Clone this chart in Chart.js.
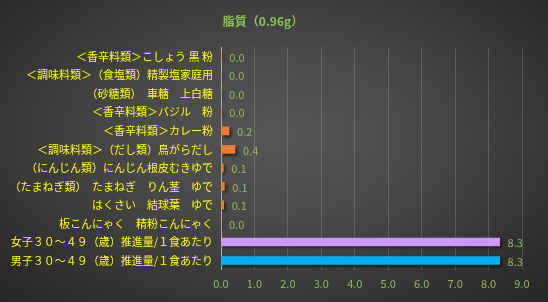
<!DOCTYPE html>
<html>
<head>
<meta charset="utf-8">
<script src="https://cdn.jsdelivr.net/npm/chart.js@4"></script>
<style>
  html, body { margin: 0; padding: 0; }
  body {
    width: 548px; height: 302px; overflow: hidden;
    background: radial-gradient(ellipse at 50% 45%, #565656 0%, #4a4a4a 35%, #333333 75%, #262626 100%);
  }
  canvas { display: block; }
</style>
</head>
<body>
<canvas id="fatChart" width="548" height="302"></canvas>
<script>
  // -----data
  const labels = [
    '＜香辛料類＞こしょう 黒 粉',
    '＜調味料類＞（食塩類）精製塩家庭用',
    '（砂糖類）　車糖　上白糖',
    '＜香辛料類＞バジル　粉',
    '＜香辛料類＞カレー粉',
    '＜調味料類＞（だし類）鳥がらだし',
    '（にんじん類）にんじん根皮むきゆで',
    '（たまねぎ類）　たまねぎ　りん茎　ゆで',
    'はくさい　結球葉　ゆで',
    '板こんにゃく　精粉こんにゃく',
    '女子３０～４９（歳）推進量/１食あたり',
    '男子３０～４９（歳）推進量/１食あたり'
  ];
  const fatValues = [0.01, 0, 0, 0.01, 0.24, 0.42, 0.07, 0.1, 0.08, 0, 8.33, 8.33];
  const barColors = [
    '#ed7d31', '#ed7d31', '#ed7d31', '#ed7d31', '#ed7d31', '#ed7d31',
    '#ed7d31', '#ed7d31', '#ed7d31', '#ed7d31', '#cc99ff', '#00b0f0'
  ];
  const tickValues = [0, 1, 2, 3, 4, 5, 6, 7, 8, 9];

  const jpFont = '"Noto Sans CJK JP", "Noto Sans", sans-serif';

  // value labels at bar ends + a little drop shadow
  const barLabels = {
    id: 'barLabels',
    beforeDatasetsDraw(chart) {
      chart.ctx.save();
      chart.ctx.shadowColor = 'rgba(0,0,0,0.6)';
      chart.ctx.shadowOffsetX = 2;
      chart.ctx.shadowOffsetY = 2;
      chart.ctx.shadowBlur = 3;
    },
    afterDatasetsDraw(chart) {
      const ctx = chart.ctx;
      ctx.restore();
      ctx.save();
      ctx.fillStyle = '#96b85a';
      ctx.font = '11px ' + jpFont;
      ctx.textBaseline = 'middle';
      chart.getDatasetMeta(0).data.forEach(function(bar, i) {
        ctx.fillText(fatValues[i].toFixed(1), bar.x + 8, bar.y + 1);
      });
      ctx.restore();
    }
  };

  var ctx = document.getElementById('fatChart');

  new Chart(ctx, {
    type: 'bar',
    data: {
      labels: labels,
      datasets: [{
        label: '脂質',
        data: fatValues,
        backgroundColor: barColors,
        borderWidth: 0,
        barThickness: 8
      }]
    },
    options: {
      indexAxis: 'y',
      responsive: false,
      animation: false,
      devicePixelRatio: 1,
      layout: { padding: { left: 4, right: 26, top: 0, bottom: 5 } },
      plugins: {
        legend: { display: false },
        tooltip: { enabled: false },
        title: {
          display: true,
          text: '脂質（0.96g）',
          color: '#8cc152',
          font: { family: jpFont, size: 12, weight: 'bold' },
          padding: { top: 14, bottom: 19 }
        }
      },
      scales: {
        x: {
          min: 0,
          max: 9,
          afterBuildTicks: function(scale) {
            scale.ticks = tickValues.map(function(v) { return { value: v }; });
          },
          ticks: {
            color: '#96b85a',
            font: { family: jpFont, size: 11 },
            padding: 7,
            maxRotation: 0,
            callback: function(v) { return Number(v).toFixed(1); }
          },
          grid: { color: 'rgba(255,255,255,0.16)', drawTicks: false },
          border: { display: false }
        },
        y: {
          afterFit: function(scale) { scale.width = 217; },
          ticks: {
            color: '#ffff00',
            font: { family: jpFont, size: 11 },
            padding: 8,
            autoSkip: false
          },
          grid: { display: false, drawTicks: false },
          border: { display: true, color: '#b0b0b0', width: 1 }
        }
      }
    },
    plugins: [barLabels]
  });
</script>
</body>
</html>
